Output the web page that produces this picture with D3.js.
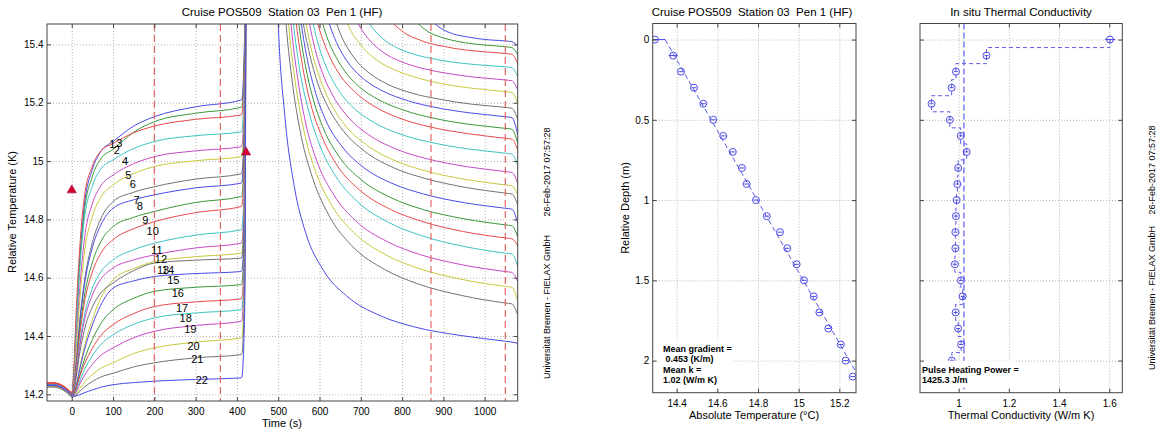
<!DOCTYPE html>
<html>
<head>
<meta charset="utf-8">
<script src="https://d3js.org/d3.v7.min.js"></script>
<style>
  body { margin: 0; background: #fff; }
  text { font-family: "Liberation Sans", Arial, Helvetica, sans-serif; fill: #000; }
  .grid line { stroke: #b5b5b5; stroke-dasharray: 1,2; }
  .grid .domain { display: none; }
  .axis .domain { display: none; }
  .axis text { font-size: 10px; }
  .frame { fill: none; stroke: #444; stroke-width: 1; }
  .axis-title { font-size: 11px; }
  .plot-title { font-size: 11.5px; white-space: pre; }
  .stamp { font-size: 9px; }
  .note { font-size: 9px; font-weight: bold; white-space: pre; }
  .sensor-label { font-size: 11px; }
</style>
</head>
<body>
<svg width="1157" height="430"></svg>
<script>
// ---------- left panel: sensor temperatures vs time ----------
var preTimes = [-60, -45, -30, -15, -5, 0, 5, 10, 20, 30, 50, 70, 100, 150, 200, 300, 410, 412, 419];
var pulsePeak = [[424, 16.6], [428, 17.2]];
var preTemps = [
  [14.236,14.236,14.232,14.220,14.208,14.201,14.270,14.418,14.677,14.842,14.972,15.032,15.067,15.120,15.152,15.186,15.209,15.213,15.459],
  [14.238,14.238,14.234,14.222,14.210,14.203,14.270,14.412,14.663,14.822,14.948,15.007,15.040,15.099,15.135,15.164,15.184,15.188,15.434],
  [14.240,14.240,14.236,14.224,14.212,14.205,14.291,14.462,14.718,14.872,14.983,15.034,15.060,15.097,15.120,15.143,15.158,15.162,15.408],
  [14.234,14.234,14.230,14.218,14.206,14.199,14.263,14.400,14.642,14.795,14.915,14.972,15.004,15.043,15.067,15.087,15.100,15.104,15.350],
  [14.232,14.232,14.228,14.216,14.204,14.197,14.250,14.363,14.575,14.726,14.854,14.914,14.952,14.991,15.015,15.035,15.049,15.053,15.299],
  [14.230,14.230,14.226,14.214,14.202,14.195,14.238,14.340,14.535,14.679,14.810,14.875,14.918,14.957,14.981,15.001,15.015,15.019,15.265],
  [14.229,14.229,14.225,14.213,14.201,14.194,14.221,14.294,14.461,14.581,14.721,14.801,14.861,14.893,14.912,14.938,14.956,14.960,15.206],
  [14.233,14.233,14.229,14.217,14.205,14.198,14.224,14.294,14.454,14.569,14.704,14.780,14.838,14.867,14.884,14.908,14.924,14.928,15.174],
  [14.231,14.231,14.227,14.215,14.203,14.196,14.219,14.283,14.428,14.532,14.653,14.723,14.775,14.807,14.827,14.858,14.878,14.882,15.128],
  [14.239,14.239,14.235,14.223,14.211,14.204,14.225,14.283,14.414,14.509,14.620,14.683,14.730,14.768,14.792,14.823,14.844,14.848,15.094],
  [14.232,14.232,14.228,14.216,14.204,14.197,14.216,14.267,14.383,14.466,14.564,14.619,14.661,14.696,14.718,14.746,14.764,14.768,15.014],
  [14.230,14.230,14.226,14.214,14.202,14.195,14.213,14.261,14.370,14.449,14.541,14.594,14.633,14.661,14.678,14.702,14.718,14.722,14.968],
  [14.228,14.228,14.224,14.212,14.200,14.193,14.201,14.225,14.297,14.361,14.457,14.529,14.593,14.631,14.655,14.672,14.684,14.688,14.934],
  [14.227,14.227,14.223,14.211,14.199,14.192,14.208,14.251,14.348,14.418,14.500,14.547,14.582,14.624,14.650,14.660,14.667,14.671,14.917],
  [14.229,14.229,14.225,14.213,14.201,14.194,14.201,14.224,14.290,14.349,14.438,14.505,14.564,14.589,14.604,14.614,14.621,14.625,14.871],
  [14.226,14.226,14.222,14.210,14.198,14.191,14.197,14.215,14.269,14.317,14.388,14.442,14.490,14.529,14.553,14.567,14.576,14.580,14.826],
  [14.237,14.237,14.233,14.221,14.209,14.202,14.207,14.221,14.264,14.302,14.358,14.401,14.439,14.477,14.501,14.517,14.527,14.531,14.777],
  [14.228,14.228,14.224,14.212,14.200,14.193,14.197,14.210,14.248,14.282,14.332,14.370,14.404,14.440,14.462,14.479,14.490,14.494,14.740],
  [14.229,14.229,14.225,14.213,14.201,14.194,14.197,14.207,14.237,14.263,14.303,14.333,14.359,14.394,14.416,14.436,14.450,14.454,14.700],
  [14.226,14.226,14.222,14.210,14.198,14.191,14.193,14.200,14.221,14.240,14.268,14.289,14.308,14.340,14.359,14.379,14.393,14.397,14.643],
  [14.225,14.225,14.221,14.209,14.197,14.190,14.192,14.197,14.211,14.224,14.244,14.259,14.272,14.294,14.308,14.325,14.336,14.340,14.586],
  [14.231,14.231,14.227,14.215,14.203,14.196,14.193,14.194,14.199,14.205,14.215,14.224,14.233,14.240,14.245,14.251,14.256,14.260,14.506]
];
// decay after the heat pulse, [time, temperature] per sensor
var postCurves = [
  [[875,15.478],[880,15.470],[885,15.464],[892,15.457],[900,15.450],[914,15.441],[931,15.433],[957,15.426],[982,15.420],[1016,15.415],[1050,15.412],[1066,15.409],[1080,15.395]],
  [[834,15.480],[840,15.470],[846,15.461],[855,15.452],[865,15.442],[882,15.431],[903,15.421],[935,15.410],[966,15.403],[1008,15.397],[1050,15.392],[1066,15.389],[1080,15.365]],
  [[772,15.483],[780,15.470],[788,15.459],[799,15.447],[812,15.434],[834,15.420],[861,15.406],[902,15.393],[942,15.383],[996,15.375],[1050,15.369],[1066,15.366],[1080,15.335]],
  [[712,15.495],[722,15.470],[732,15.450],[745,15.430],[761,15.411],[788,15.388],[820,15.370],[870,15.352],[919,15.340],[984,15.330],[1050,15.323],[1066,15.320],[1080,15.289]],
  [[683,15.503],[694,15.470],[705,15.444],[719,15.418],[737,15.392],[765,15.363],[801,15.339],[854,15.316],[908,15.301],[979,15.287],[1050,15.278],[1066,15.275],[1080,15.244]],
  [[657,15.509],[668,15.470],[679,15.439],[695,15.407],[714,15.376],[744,15.341],[783,15.312],[840,15.284],[897,15.265],[974,15.249],[1050,15.238],[1066,15.235],[1080,15.197]],
  [[630,15.531],[642,15.470],[654,15.425],[671,15.381],[691,15.341],[724,15.298],[764,15.264],[826,15.232],[887,15.213],[968,15.195],[1050,15.184],[1066,15.181],[1080,15.143]],
  [[611,15.537],[624,15.470],[637,15.420],[654,15.371],[675,15.327],[709,15.279],[752,15.241],[816,15.206],[880,15.184],[965,15.165],[1050,15.152],[1066,15.149],[1080,15.090]],
  [[595,15.546],[608,15.470],[621,15.414],[639,15.359],[661,15.309],[696,15.255],[741,15.212],[807,15.173],[873,15.148],[962,15.126],[1050,15.112],[1066,15.109],[1080,15.061]],
  [[582,15.553],[596,15.470],[610,15.409],[628,15.348],[650,15.294],[687,15.235],[732,15.188],[800,15.144],[868,15.117],[959,15.094],[1050,15.078],[1066,15.075],[1080,15.037]],
  [[571,15.583],[585,15.470],[599,15.391],[618,15.317],[641,15.254],[678,15.188],[725,15.138],[794,15.093],[864,15.066],[957,15.042],[1050,15.027],[1066,15.024],[1080,14.986]],
  [[562,15.600],[576,15.470],[590,15.380],[609,15.295],[633,15.223],[671,15.148],[718,15.091],[789,15.039],[860,15.008],[955,14.981],[1050,14.964],[1066,14.961],[1080,14.923]],
  [[554,15.611],[568,15.470],[582,15.372],[602,15.280],[626,15.201],[664,15.119],[713,15.056],[785,15.000],[857,14.966],[954,14.937],[1050,14.918],[1066,14.915],[1080,14.884]],
  [[546,15.619],[561,15.470],[576,15.367],[595,15.270],[620,15.187],[659,15.101],[708,15.035],[781,14.976],[854,14.941],[952,14.910],[1050,14.890],[1066,14.887],[1080,14.849]],
  [[541,15.662],[556,15.470],[571,15.345],[591,15.232],[615,15.140],[655,15.049],[704,14.981],[778,14.922],[852,14.887],[951,14.857],[1050,14.838],[1066,14.835],[1080,14.787]],
  [[535,15.680],[550,15.470],[565,15.334],[585,15.211],[610,15.110],[650,15.010],[700,14.937],[775,14.873],[850,14.834],[950,14.802],[1050,14.781],[1066,14.778],[1080,14.740]],
  [[529,15.693],[544,15.470],[559,15.325],[579,15.194],[605,15.087],[645,14.980],[696,14.902],[772,14.834],[848,14.793],[949,14.758],[1050,14.736],[1066,14.733],[1080,14.709]],
  [[522,15.709],[537,15.470],[552,15.314],[573,15.175],[599,15.060],[640,14.946],[691,14.862],[768,14.789],[845,14.745],[947,14.708],[1050,14.684],[1066,14.681],[1080,14.639]],
  [[515,15.771],[531,15.470],[547,15.285],[567,15.127],[593,15.002],[635,14.883],[687,14.796],[765,14.723],[842,14.680],[946,14.644],[1050,14.621],[1066,14.618],[1080,14.587]],
  [[509,15.790],[525,15.470],[541,15.274],[562,15.106],[588,14.974],[630,14.847],[683,14.755],[761,14.678],[840,14.632],[945,14.594],[1050,14.570],[1066,14.567],[1080,14.519]],
  [[503,15.810],[519,15.470],[535,15.261],[556,15.083],[583,14.943],[625,14.808],[678,14.710],[758,14.628],[838,14.579],[944,14.539],[1050,14.513],[1066,14.510],[1080,14.472]],
  [[484,16.220],[500,15.470],[517,15.141],[539,14.912],[566,14.756],[610,14.624],[665,14.538],[748,14.469],[830,14.431],[940,14.402],[1050,14.382],[1066,14.379],[1080,14.375]]
];
// sensor number labels, [time, temperature]
var labelPos = [
  [98,15.059],[109,15.038],[115,15.061],[129,14.998],[137,14.952],[148,14.921],[157,14.867],[165,14.844],
  [178,14.798],[196,14.758],[206,14.696],[216,14.664],[221,14.627],[233,14.627],[246,14.593],[257,14.547],
  [267,14.496],[276,14.462],[287,14.424],[295,14.364],[304,14.319],[315,14.248]
];
var lineColors = ['#4a4ae6', '#3a983a', '#e84a4a', '#3ec4c4', '#c64ac6', '#c8c83e', '#727272'];
var windowTimes = [200, 360, 870, 1050];
var markers = [[0, 14.90], [422, 15.03]];
var timeTicks = [0, 100, 200, 300, 400, 500, 600, 700, 800, 900, 1000];
var tempTicks = [14.2, 14.4, 14.6, 14.8, 15, 15.2, 15.4];

// ---------- middle panel: temperature profile ----------
var depths = [0,0.1,0.2,0.3,0.4,0.5,0.6,0.7,0.8,0.9,1,1.1,1.2,1.3,1.4,1.5,1.6,1.7,1.8,1.9,2,2.1];
var absTemp = [14.293,14.383,14.421,14.485,14.531,14.580,14.629,14.676,14.721,14.744,14.790,14.843,
               14.908,14.944,14.990,15.026,15.074,15.102,15.146,15.207,15.231,15.266];
var absTempErr = [0.05,0.023,0.012,0.012,0.012,0.012,0.012,0.012,0.012,0.012,0.012,0.012,
                  0.012,0.012,0.012,0.012,0.012,0.012,0.012,0.012,0.012,0.012];
var fitLine = [[14.343, 0], [15.340, 2.2]];
var absTicks = [14.4, 14.6, 14.8, 15, 15.2];
var depthTicks = [0, 0.5, 1, 1.5, 2];

// ---------- right panel: thermal conductivity ----------
var conductivity = [1.603,1.111,0.989,0.972,0.892,0.965,1.008,1.032,0.998,0.995,0.992,0.989,
                    0.987,0.987,0.985,1.009,1.016,0.988,0.998,1.010,0.973,0.990];
var conductivityErr = [0.02,0.008,0.008,0.008,0.008,0.008,0.008,0.008,0.008,0.008,0.008,0.008,
                       0.008,0.008,0.008,0.008,0.008,0.008,0.008,0.008,0.008,0.008];
var meanK = 1.021;
var condTicks = [1, 1.2, 1.4, 1.6];

var svg = d3.select('svg');

function extent(scale) {
  var r = scale.range();
  return Math.abs(r[1] - r[0]);
}
// dotted grid behind the data
function drawGrid(g, x, y, xTicks, yTicks) {
  var w = extent(x), h = extent(y);
  g.append('g').attr('class', 'grid')
    .attr('transform', 'translate(0,' + h + ')')
    .call(d3.axisBottom(x).tickValues(xTicks).tickSize(-h).tickFormat(''));
  g.append('g').attr('class', 'grid')
    .call(d3.axisLeft(y).tickValues(yTicks).tickSize(-w).tickFormat(''));
}
// box, inward ticks on all four sides, tick labels
function drawFrame(g, x, y, xTicks, yTicks, showYLabels) {
  var w = extent(x), h = extent(y);
  g.append('rect').attr('class', 'frame').attr('width', w).attr('height', h);
  g.append('g').attr('class', 'axis').attr('color', '#444')
    .attr('transform', 'translate(0,' + h + ')')
    .call(d3.axisBottom(x).tickValues(xTicks).tickSize(-4).tickPadding(7).tickFormat(function (d) { return d; }));
  g.append('g').attr('class', 'axis').attr('color', '#444')
    .call(d3.axisTop(x).tickValues(xTicks).tickSize(-4).tickFormat(''));
  g.append('g').attr('class', 'axis').attr('color', '#444')
    .call(d3.axisLeft(y).tickValues(yTicks).tickSize(-4).tickPadding(3.5)
      .tickFormat(showYLabels ? function (d) { return d; } : ''));
  g.append('g').attr('class', 'axis').attr('color', '#444')
    .attr('transform', 'translate(' + w + ',0)')
    .call(d3.axisRight(y).tickValues(yTicks).tickSize(-4).tickFormat(''));
}

// ---- left panel ----
var xT = d3.scaleLinear().domain([-60, 1080]).range([0, 470.7]);
var yT = d3.scaleLinear().domain([14.177, 15.47]).range([377, 0]);
var g1 = svg.append('g').attr('transform', 'translate(47,24)');
svg.append('clipPath').attr('id', 'clip1').append('rect').attr('width', 470.7).attr('height', 377);
drawGrid(g1, xT, yT, timeTicks, tempTicks);

var plot1 = g1.append('g').attr('clip-path', 'url(#clip1)');
var tempLine = d3.line()
  .x(function (d) { return xT(d[0]); })
  .y(function (d) { return yT(d[1]); })
  .curve(d3.curveMonotoneX);
preTemps.forEach(function (row, i) {
  var pts = preTimes.map(function (t, j) { return [t, row[j]]; })
    .concat(pulsePeak, postCurves[i]);
  plot1.append('path')
    .attr('d', tempLine(pts))
    .attr('fill', 'none')
    .attr('stroke', lineColors[i % lineColors.length])
    .attr('stroke-width', 1);
});
plot1.selectAll('.window').data(windowTimes).enter().append('line')
  .attr('x1', function (d) { return xT(d); }).attr('x2', function (d) { return xT(d); })
  .attr('y1', 0).attr('y2', 377)
  .attr('stroke', '#e36464').attr('stroke-width', 1.2).attr('stroke-dasharray', '7,4');
plot1.selectAll('.marker').data(markers).enter().append('path')
  .attr('d', d3.symbol().type(d3.symbolTriangle).size(36))
  .attr('transform', function (d) { return 'translate(' + xT(d[0]) + ',' + yT(d[1]) + ')'; })
  .attr('fill', '#d8002e').attr('stroke', '#9a0a50').attr('stroke-width', 0.7);
g1.selectAll('.sensor-label').data(labelPos).enter().append('text')
  .attr('class', 'sensor-label')
  .attr('x', function (d) { return xT(d[0]); })
  .attr('y', function (d) { return yT(d[1]); })
  .attr('dy', '0.35em').attr('text-anchor', 'middle')
  .text(function (d, i) { return i + 1; });
drawFrame(g1, xT, yT, timeTicks, tempTicks, true);

svg.append('text').attr('class', 'plot-title').attr('x', 282).attr('y', 16)
  .attr('text-anchor', 'middle').text('Cruise POS509  Station 03  Pen 1 (HF)');
svg.append('text').attr('class', 'axis-title').attr('x', 282).attr('y', 427)
  .attr('text-anchor', 'middle').text('Time (s)');
svg.append('text').attr('class', 'axis-title')
  .attr('transform', 'translate(12.5,212) rotate(-90)')
  .attr('dy', '0.35em').attr('text-anchor', 'middle').text('Relative Temperature (K)');

// ---- middle panel ----
var xA = d3.scaleLinear().domain([14.282, 15.282]).range([0, 203.3]);
var yD = d3.scaleLinear().domain([-0.1, 2.2]).range([0, 369.2]);
var g2 = svg.append('g').attr('transform', 'translate(652.7,23.5)');
svg.append('clipPath').attr('id', 'clip2').append('rect').attr('width', 203.3).attr('height', 369.2);
drawGrid(g2, xA, yD, absTicks, depthTicks);
var plot2 = g2.append('g').attr('clip-path', 'url(#clip2)');
plot2.append('path')
  .attr('d', d3.line().x(function (d) { return xA(d[0]); }).y(function (d) { return yD(d[1]); })(fitLine))
  .attr('fill', 'none').attr('stroke', '#5a5ae8').attr('stroke-width', 1).attr('stroke-dasharray', '5,3');
var tp = plot2.selectAll('.pt').data(depths).enter().append('g');
tp.append('line')
  .attr('x1', function (d, i) { return xA(absTemp[i] - absTempErr[i]); })
  .attr('x2', function (d, i) { return xA(absTemp[i] + absTempErr[i]); })
  .attr('y1', function (d) { return yD(d); }).attr('y2', function (d) { return yD(d); })
  .attr('stroke', '#4a4ae6');
tp.append('circle')
  .attr('cx', function (d, i) { return xA(absTemp[i]); })
  .attr('cy', function (d) { return yD(d); })
  .attr('r', 3.5).attr('fill', 'none').attr('stroke', '#4a4ae6');
g2.append('rect').attr('x', 0.5).attr('y', 317.5).attr('width', 79).attr('height', 47).attr('fill', '#fff');
var notes2 = [['Mean gradient =', 10.3, 328], [' 0.453 (K/m)', 10.3, 338], ['Mean k =', 10.3, 349], ['1.02 (W/m K)', 10.3, 359.7]];
g2.selectAll('.note').data(notes2).enter().append('text').attr('class', 'note')
  .attr('x', function (d) { return d[1]; }).attr('y', function (d) { return d[2]; })
  .text(function (d) { return d[0]; });
drawFrame(g2, xA, yD, absTicks, depthTicks, true);
svg.append('text').attr('class', 'plot-title').attr('x', 752).attr('y', 16)
  .attr('text-anchor', 'middle').text('Cruise POS509  Station 03  Pen 1 (HF)');
svg.append('text').attr('class', 'axis-title').attr('x', 754).attr('y', 419)
  .attr('text-anchor', 'middle').text('Absolute Temperature (°C)');
svg.append('text').attr('class', 'axis-title')
  .attr('transform', 'translate(624.7,208) rotate(-90)')
  .attr('dy', '0.35em').attr('text-anchor', 'middle').text('Relative Depth (m)');

// ---- right panel ----
var xK = d3.scaleLinear().domain([0.846, 1.652]).range([0, 202.3]);
var g3 = svg.append('g').attr('transform', 'translate(920,23.5)');
svg.append('clipPath').attr('id', 'clip3').append('rect').attr('width', 202.3).attr('height', 369.2);
drawGrid(g3, xK, yD, condTicks, depthTicks);
var plot3 = g3.append('g').attr('clip-path', 'url(#clip3)');
plot3.append('line')
  .attr('x1', xK(meanK)).attr('x2', xK(meanK)).attr('y1', 0).attr('y2', 369.2)
  .attr('stroke', '#5a5ae8').attr('stroke-width', 1.2).attr('stroke-dasharray', '6,3');
// step profile: drawn with depth on the x axis, then mirrored
var stepLine = d3.line()
  .x(function (d) { return yD(d); })
  .y(function (d, i) { return xK(conductivity[i]); })
  .curve(d3.curveStep);
plot3.append('path')
  .attr('d', stepLine(depths))
  .attr('transform', 'matrix(0,1,1,0,0,0)')
  .attr('fill', 'none').attr('stroke', '#5a5ae8').attr('stroke-width', 1).attr('stroke-dasharray', '4,3');
var kp = plot3.selectAll('.pt').data(depths).enter().append('g');
kp.append('line')
  .attr('x1', function (d, i) { return xK(conductivity[i] - conductivityErr[i]); })
  .attr('x2', function (d, i) { return xK(conductivity[i] + conductivityErr[i]); })
  .attr('y1', function (d) { return yD(d); }).attr('y2', function (d) { return yD(d); })
  .attr('stroke', '#4a4ae6');
kp.append('circle')
  .attr('cx', function (d, i) { return xK(conductivity[i]); })
  .attr('cy', function (d) { return yD(d); })
  .attr('r', 3.5).attr('fill', 'none').attr('stroke', '#4a4ae6');
g3.append('rect').attr('x', 0.5).attr('y', 337.2).attr('width', 95).attr('height', 27).attr('fill', '#fff');
var notes3 = [['Pulse Heating Power =', 2, 349], ['1425.3 J/m', 2, 359.7]];
g3.selectAll('.note').data(notes3).enter().append('text').attr('class', 'note')
  .attr('x', function (d) { return d[1]; }).attr('y', function (d) { return d[2]; })
  .text(function (d) { return d[0]; });
drawFrame(g3, xK, yD, condTicks, depthTicks, false);
svg.append('text').attr('class', 'plot-title').attr('x', 1021).attr('y', 16)
  .attr('text-anchor', 'middle').text('In situ Thermal Conductivity');
svg.append('text').attr('class', 'axis-title').attr('x', 1021).attr('y', 419)
  .attr('text-anchor', 'middle').text('Thermal Conductivity (W/m K)');

// ---- side stamps ----
var stamps = [
  ['26-Feb-2017 07:57:28', 547, 172], ['Universität Bremen - FIELAX GmbH', 547, 307],
  ['26-Feb-2017 07:57:28', 1151.5, 170], ['Universität Bremen - FIELAX GmbH', 1151.5, 298]
];
svg.selectAll('.stamp').data(stamps).enter().append('text').attr('class', 'stamp')
  .attr('transform', function (d) { return 'translate(' + d[1] + ',' + d[2] + ') rotate(-90)'; })
  .attr('dy', '0.35em').attr('text-anchor', 'middle')
  .text(function (d) { return d[0]; });
</script>
</body>
</html>
